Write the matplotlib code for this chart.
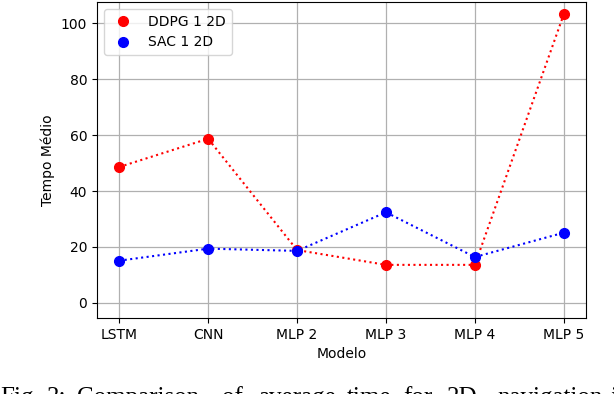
import matplotlib.pyplot as plt

# Data
modelos = ['LSTM', 'CNN', 'MLP 2', 'MLP 3', 'MLP 4', 'MLP 5']
ddpg_tempo = [48.6, 58.7, 18.9, 13.6, 13.6, 103.2]
sac_tempo = [15.1, 19.4, 18.6, 32.4, 16.4, 25.1]

# Caption words (justified in the source, so placed one by one)
caption_words = ['Fig.', '3:', 'Comparison', 'of', 'average', 'time',
                 'for', '2D', 'navigation', 'in']
caption_x_px = [0, 47, 77, 222, 258, 347, 403, 447, 497, 610]


def generate_chart():
    fig = plt.figure(figsize=(6.14, 3.94), dpi=100)
    ax = fig.add_axes([97 / 614, 1 - 318 / 394, 489 / 614, 316 / 394])

    x = range(len(modelos))
    ax.plot(x, ddpg_tempo, 'o', color='red', markersize=7, label='DDPG 1 2D')
    ax.plot(x, ddpg_tempo, ':', color='red', linewidth=1.5)
    ax.plot(x, sac_tempo, 'o', color='blue', markersize=7, label='SAC 1 2D')
    ax.plot(x, sac_tempo, ':', color='blue', linewidth=1.5)

    ax.set_xticks(list(x))
    ax.set_xticklabels(modelos)
    ax.set_yticks([0, 20, 40, 60, 80, 100])
    ax.set_ylim(-5.4, 107.6)
    ax.set_xlabel('Modelo')
    ax.set_ylabel('Tempo Médio')
    ax.grid(True, color='#b0b0b0', linewidth=0.9)
    ax.set_axisbelow(True)
    ax.legend(loc='upper left', fontsize=10)

    # Caption, cut off by the bottom edge as in the source image
    for word, xp in zip(caption_words, caption_x_px):
        fig.text(xp / 614, -10 / 394, word, family='Liberation Serif',
                 fontsize=18, va='baseline', ha='left')

    fig.savefig('out.png', dpi=100)


if __name__ == "__main__":
    generate_chart()
